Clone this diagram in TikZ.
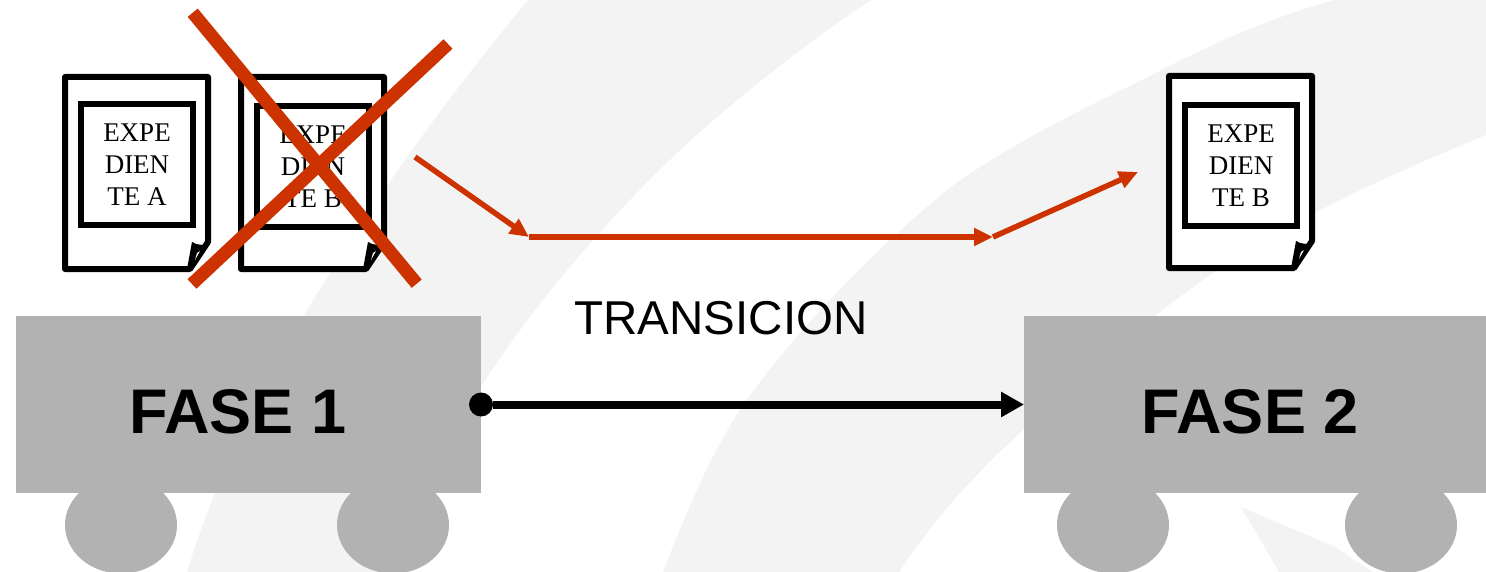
\documentclass[tikz,border=0pt]{standalone}
\usepackage{fontspec}
\setmainfont{Liberation Serif}
\setsansfont{Liberation Sans}
\usetikzlibrary{arrows.meta}
\definecolor{redx}{HTML}{CC3300}
\definecolor{grayfase}{HTML}{B2B2B2}
\definecolor{grayband}{HTML}{F3F3F3}
\tikzset{
	band/.style={fill=grayband, draw=none},
	wheel/.style={fill=grayfase, draw=none},
	fasebox/.style={fill=grayfase, draw=none, inner sep=0, outer sep=0, minimum height=177pt},
	fasetext/.style={font=\sffamily\bfseries\fontsize{63}{63}\selectfont},
	page/.style={fill=white, draw=black, line width=6pt, line join=round},
	inbox/.style={fill=white, draw=black, line width=6pt, inner sep=0, minimum width=112pt, minimum height=121pt, align=center, font=\fontsize{27}{32}\selectfont},
	cross/.style={draw=redx, line width=13pt},
	redline/.style={draw=redx, -{Triangle[length=19pt, width=17pt]}}
}
\begin{document}
\begin{tikzpicture}[x=1pt, y=-1pt]
		\useasboundingbox (0,0) rectangle (1486,572);
		\clip (0,0) rectangle (1486,572);
		\fill[white] (0,0) rectangle (1486,572);
		\fill[band] (528,0) .. controls (441,106) and (380,190) .. (303,317) .. controls (260,390) and (215,480) .. (187,572) -- (400,572) .. controls (420,500) and (445,440) .. (482,385) .. controls (540,295) and (620,205) .. (691,140) .. controls (745,92) and (810,40) .. (871,0) -- cycle;
		\fill[band] (1335,0) .. controls (1260,20) and (1190,55) .. (1146,78) .. controls (1080,110) and (1000,150) .. (947,190) .. controls (880,245) and (800,325) .. (743,405) .. controls (710,455) and (685,515) .. (663,572) -- (899,572) .. controls (940,510) and (985,465) .. (1023,430) .. controls (1090,365) and (1160,310) .. (1217,270) .. controls (1300,215) and (1400,170) .. (1486,135) -- (1486,0) -- cycle;
		\fill[band] (1241,507) -- (1335,547) -- (1373,572) -- (1279,572) -- cycle;
		\foreach \wx in {121,393,1113,1401} {
			\fill[wheel] (\wx,525) ellipse (56 and 48.5);
		}
		\node[fasebox, minimum width=465pt] (fase1) at (248.5,404.5) {};
		\node[fasebox, minimum width=462pt] (fase2) at (1255,404.5) {};
		\node[fasetext] (textfase1) at (238,412) {FASE 1};
		\node[fasetext] (textfase2) at (1250,412) {FASE 2};
		\foreach \dx/\dy/\iy/\nm/\txt in {65/77/88/expa/TE A, 241/77/90/expb/TE B, 1169/76/90/expc/TE B} {
			\begin{scope}[shift={(\dx,\dy)}]
				\draw[page] (0,0) -- (143,0) -- (143,165) -- (125,192) -- (0,192) -- cycle;
				\fill[black] (127,165) -- (131,167) -- (137,168) -- (143,165) -- (125,192) -- (122,192) -- cycle;
				\fill[white] (132,176) -- (135,174) -- (130,183) -- cycle;
				\node[inbox] (\nm) at (72,\iy) {EXPE\\DIEN\\\txt};
			\end{scope}
		}
		\draw[cross] (192.7,12.7) -- (416.7,283.7);
		\draw[cross] (192,284) -- (448,44);
		\coordinate (a1) at (415,157);
		\coordinate (a2) at (529,237);
		\coordinate (a3) at (993,237);
		\coordinate (a4) at (1138,172);
		\draw[redline, line width=5.5pt] (a1) -- (a2);
		\draw[redline, line width=6pt] (a2) -- (a3);
		\draw[redline, line width=5.5pt] (a3) -- (a4);
		\node[circle, fill=black, inner sep=0, outer sep=0, minimum size=24pt] (dot) at (fase1.east) {};
		\draw[line width=8pt, -{Triangle[length=23pt, width=24pt]}] (dot) -- (fase2.west);
		\node[font=\sffamily\fontsize{47.5}{47.5}\selectfont] (transicion) at (721,318) {TRANSICION};
	\end{tikzpicture}
\end{document}
